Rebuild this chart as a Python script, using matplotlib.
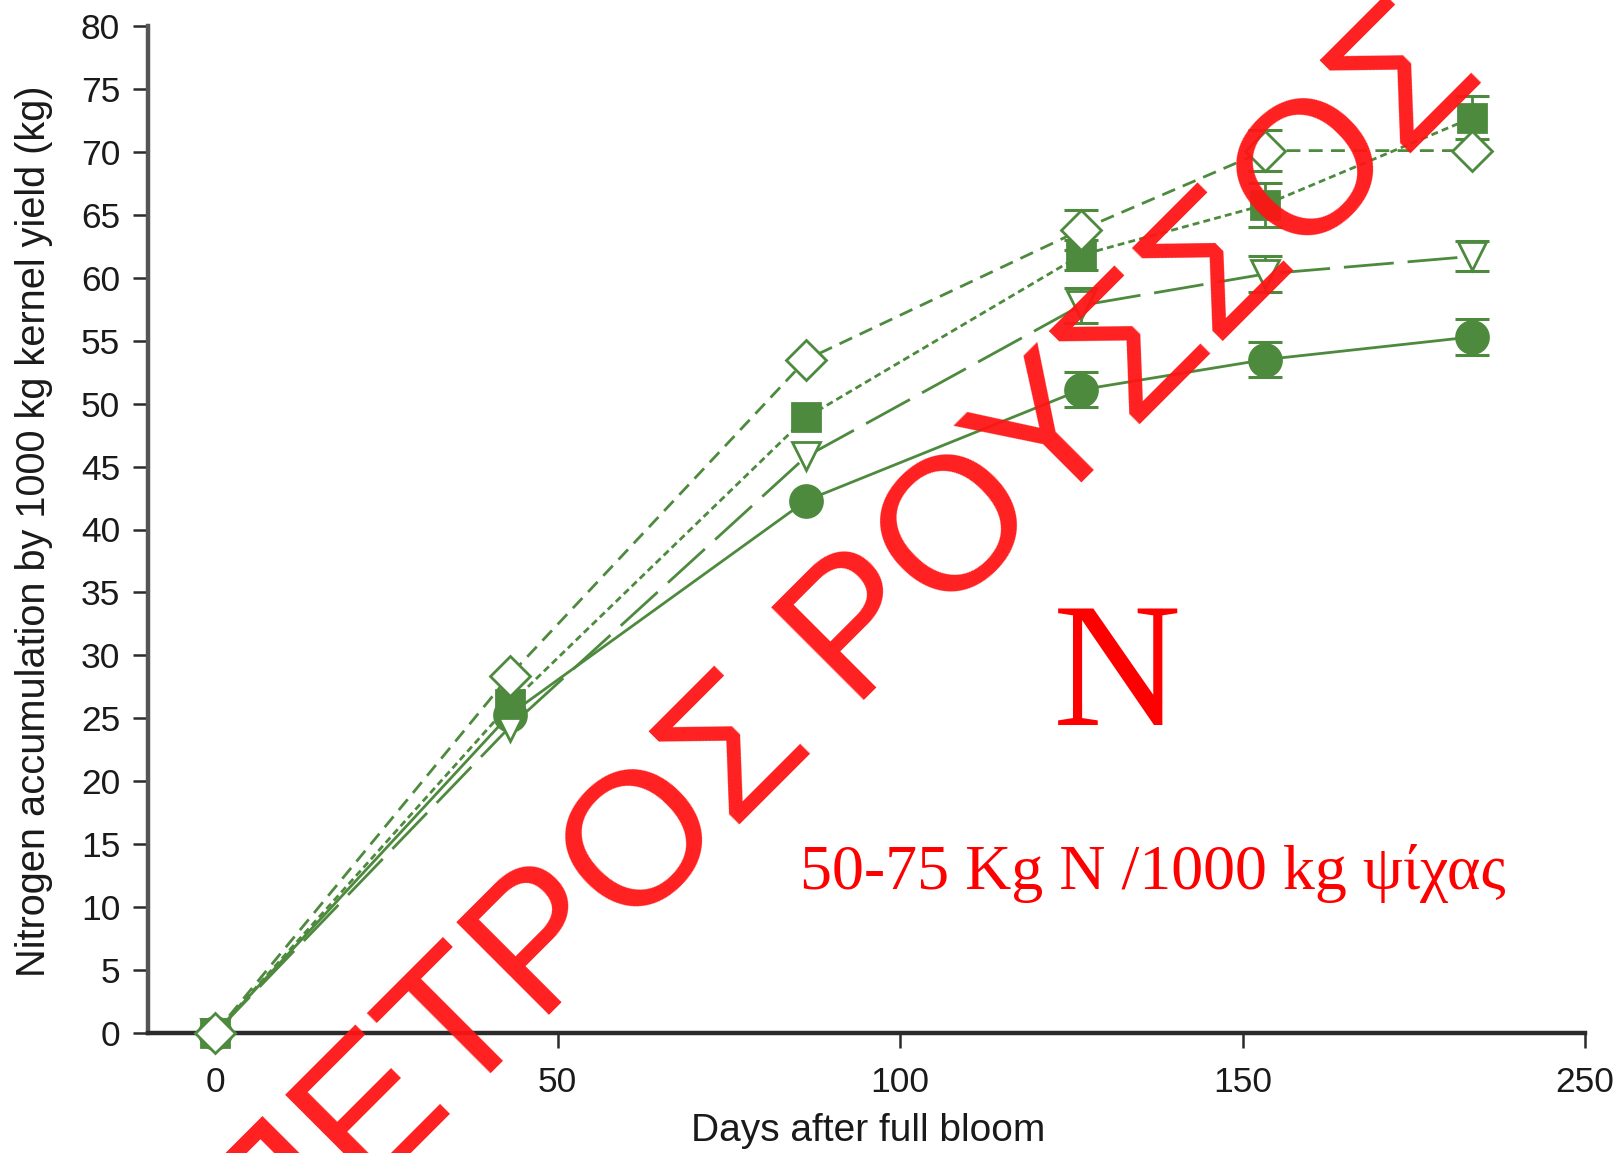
import matplotlib
matplotlib.use("Agg")
import matplotlib.pyplot as plt
import numpy as np
from matplotlib import font_manager

# ---- data -------------------------------------------------------------
days = [0, 43, 86.3, 126.4, 153.3, 183.5]

diamond_vals = [0, 28.4, 53.5, 63.8, 70.1, 70.1]
diamond_err = [np.nan, np.nan, np.nan, 1.6, 1.6, np.nan]

square_vals = [0, 26.1, 48.9, 61.8, 65.8, 72.7]
square_err = [np.nan, np.nan, np.nan, 1.2, 1.75, 1.7]

triangle_vals = [0, 24.3, 45.8, 57.8, 60.3, 61.7]
triangle_err = [np.nan, np.nan, np.nan, 1.4, 1.4, 1.2]

circle_vals = [0, 25.3, 42.3, 51.1, 53.5, 55.3]
circle_err = [np.nan, np.nan, np.nan, 1.4, 1.4, 1.45]

x_ticks = [0, 50, 100, 150, 200]
x_tick_labels = ["0", "50", "100", "150", "250"]
y_ticks = list(range(0, 81, 5))

x_label = "Days after full bloom"
y_label = "Nitrogen accumulation by 1000 kg kernel yield (kg)"
watermark = "ΠΕΤΡΟΣ ΡΟΥΣΣΟΣ"
big_n = "N"
note = "50-75 Kg N /1000 kg ψίχας"

# ---- style ------------------------------------------------------------
installed = {f.name for f in font_manager.fontManager.ttflist}
sans = "Liberation Sans" if "Liberation Sans" in installed else "DejaVu Sans"
serif = "Liberation Serif" if "Liberation Serif" in installed else "DejaVu Serif"
plt.rcParams["font.family"] = [sans, "DejaVu Sans"]

GREEN = "#4d8a3e"
RED = "#ff1414"
AX_DARK = "#2b2b2b"

fig = plt.figure(figsize=(16.24, 11.53), dpi=100)
ax = fig.add_axes([148 / 1624, 1 - 1033 / 1153, (1585 - 148) / 1624, (1033 - 26) / 1153])

series = [
    (circle_vals, circle_err, "o", GREEN, "-", 23),
    (triangle_vals, triangle_err, "v", "white", (0, (18, 5)), 20),
    (square_vals, square_err, "s", GREEN, (0, (2.5, 1.5)), 20),
    (diamond_vals, diamond_err, "D", "white", (0, (5, 3)), 20),
]

for z, (vals, errs, marker, face, ls, ms) in enumerate(series):
    errs = np.asarray(errs, dtype=float)
    shown = ~np.isnan(errs)
    _, caps, bars = ax.errorbar(
        np.asarray(days)[shown], np.asarray(vals)[shown], yerr=errs[shown],
        fmt="none", ecolor=GREEN, elinewidth=2,
        capsize=12, capthick=2.2, zorder=3 + z * 2,
    )
    for c in caps:
        c.set_clip_on(False)
    for b in bars:
        b.set_clip_on(False)
    ax.plot(
        days, vals, linestyle=ls, color=GREEN, linewidth=2,
        marker=marker, markersize=ms, markerfacecolor=face,
        markeredgecolor=GREEN, markeredgewidth=2, zorder=4 + z * 2,
        clip_on=False,
    )

ax.set_xlim(-9.8, 200)
ax.set_ylim(0, 80)
ax.set_xticks(x_ticks)
ax.set_xticklabels(x_tick_labels)
ax.set_yticks(y_ticks)

for side in ("top", "right"):
    ax.spines[side].set_visible(False)
ax.spines["left"].set_color("#555555")
ax.spines["left"].set_linewidth(3.2)
ax.spines["bottom"].set_color(AX_DARK)
ax.spines["bottom"].set_linewidth(3.2)

ax.tick_params(axis="both", direction="out", length=11, width=1.8,
               colors=AX_DARK, labelsize=25.5, labelcolor="#1a1a1a")
ax.tick_params(axis="y", pad=9)
ax.tick_params(axis="x", pad=13)

ax.set_xlabel(x_label, fontsize=28, color="#1a1a1a")
ax.xaxis.set_label_coords(0.501, -0.079)
ax.xaxis.label.set_va("top")
ax.set_ylabel(y_label, fontsize=28.6, color="#1a1a1a")
ax.yaxis.set_label_coords(-0.079, 0.4985)
ax.yaxis.label.set_va("center")

# ---- red overlay texts ------------------------------------------------
fig.text(800 / 1624, 1 - 889 / 1153, note, color="red", fontsize=46,
         family=[serif, "DejaVu Serif"], ha="left", va="baseline", zorder=20)
fig.text(1117 / 1624, 1 - 725 / 1153, big_n, color="red", fontsize=128,
         family=[serif, "DejaVu Serif"], ha="center", va="baseline", zorder=20)
fig.text(878 / 1624, 1 - 686 / 1153, watermark, color=RED, alpha=0.95,
         fontsize=137, family=[sans, "DejaVu Sans"], rotation=45,
         rotation_mode="anchor", ha="center", va="baseline", zorder=30)

fig.savefig("out.png", dpi=100, facecolor="white")
